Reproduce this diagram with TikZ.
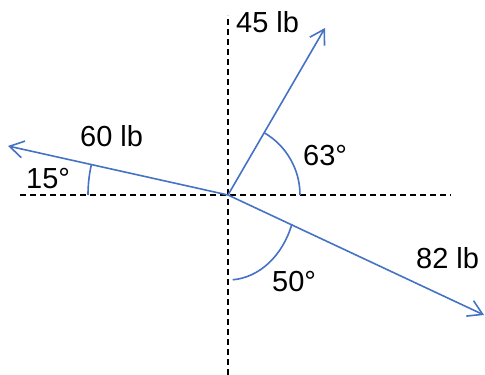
\documentclass[tikz,border=0pt]{standalone}
\usepackage{fontspec}
\setmainfont{Liberation Sans}
\usetikzlibrary{arrows.meta}

\begin{document}
\begin{tikzpicture}[x=1pt,y=1pt,
        force/.style={forceblue,line width=1.6pt,-{Straight Barb[length=14pt,width=17pt,line width=1.6pt]}},
        axis/.style={black,line width=1.8pt,dash pattern=on 6pt off 4pt},
        angarc/.style={forceblue,line width=1.6pt},
        lbl/.style={anchor=base west,inner sep=0pt,font=\fontsize{29}{31}\selectfont}]
        \definecolor{forceblue}{RGB}{68,114,196}
        \useasboundingbox (0,0) rectangle (485,375);

        % axes
        \coordinate (O) at (228,180);
        \coordinate (xl) at (20,180);
        \coordinate (xr) at (451,180);
        \coordinate (yt) at (228,360);
        \coordinate (yb) at (228,0);
        \draw[axis] (xl)--(xr);
        \draw[axis] (yb)--(yt);

        % forces
        \coordinate (f45) at (325,347);
        \coordinate (f60) at (8,229);
        \coordinate (f82) at (484,60);
        \draw[force] (O)--(f45);
        \draw[force] (O)--(f60);
        \draw[force] (O)--(f82);

        % angles
        \draw[angarc] ([xshift=72pt]O) arc[start angle=0,end angle=59.9,radius=72];
        \draw[angarc] ([xshift=-140pt]O) arc[start angle=180,end angle=167.4,radius=140];
        \draw[angarc] (O) ++(-86:68 and 85) arc[start angle=-86,end angle=-20,x radius=68,y radius=85];

        % labels
        \node[lbl] (l45) at (236,342) {45 lb};
        \node[lbl] (a63) at (303,209) {63°};
        \node[lbl] (l60) at (80,228) {60 lb};
        \node[lbl] (a15) at (26,186) {15°};
        \node[lbl] (l82) at (416,106) {82 lb};
        \node[lbl] (a50) at (272,83) {50°};
\end{tikzpicture}
\end{document}
